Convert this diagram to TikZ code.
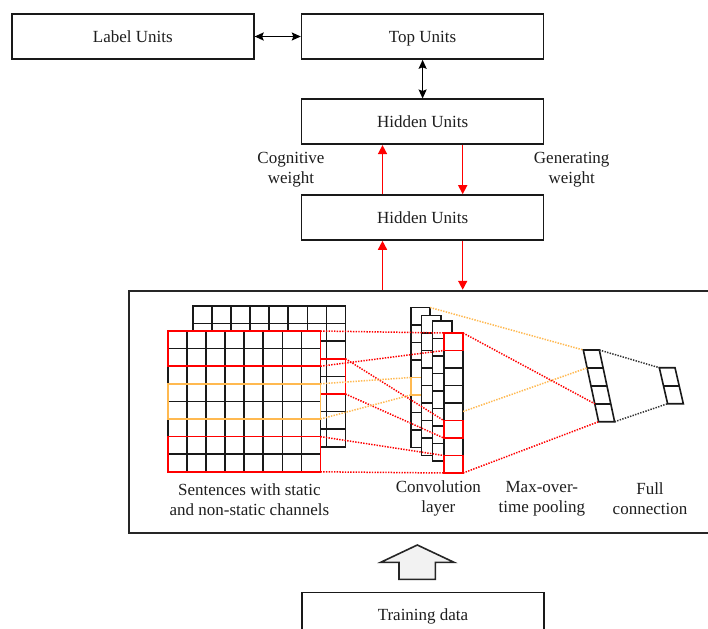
\documentclass[tikz,border=0pt]{standalone}
\usepackage{fontspec}
\setmainfont{Liberation Serif}
\usetikzlibrary{arrows.meta}
\definecolor{rd}{RGB}{255,0,0}
\definecolor{org}{RGB}{255,185,80}
\definecolor{txt}{RGB}{30,30,30}
\newcommand\mkconvcol[2]{%
  \filldraw[cell] (#1,#2) rectangle ++(19.4,140);
  \foreach \k in {1,...,7} \draw[gridl] ({#1},{#2+\k*17.5}) -- ++(19.4,0);
}
\newcommand\mkgrid[2]{%
  \filldraw[cell] (#1,#2) rectangle ++(152.8,140.8);
  \foreach \k in {1,...,7} {
    \draw[gridl] ({#1+\k*19.1},{#2}) -- ++(0,140.8);
    \draw[gridl] ({#1},{#2+\k*17.6}) -- ++(152.8,0);
  }
}
\begin{document}
\begin{tikzpicture}[x=1pt,y=-1pt,
  font=\fontsize{17}{20}\selectfont,
  box/.style={draw=black!90, line width=1.6pt, minimum width=242pt, minimum height=45pt, inner sep=0pt, text=txt, text height=11.5pt, text depth=0pt},
  lbl/.style={align=center, text=txt, inner sep=0pt},
  dblarr/.style={{Stealth[length=9pt,width=8pt,inset=1.5pt]}-{Stealth[length=9pt,width=8pt,inset=1.5pt]}, line width=1.5pt},
  redarr/.style={-{Triangle[length=9pt,width=9pt]}, draw=rd, line width=1.5pt},
  gridl/.style={line width=1.6pt, draw=black!90},
  cell/.style={line width=1.6pt, draw=black!90, fill=white},
  win/.style={line width=1.6pt},
  dotl/.style={line width=1.5pt, dash pattern=on 1.4pt off 1.3pt},
]
\clip (0,0) rectangle (708,628);
\fill[white] (0,0) rectangle (708,628);

% top boxes
\node[box] (label) at (132.85,36.5) {Label Units};
\node[box] (top) at (422.6,36.5) {Top Units};
\node[box] (h1) at (422.6,121.8) {Hidden Units};
\node[box] (h2) at (422.6,217.5) {Hidden Units};
\node[draw=black!85, line width=1.8pt, minimum width=583pt, minimum height=242.6pt, inner sep=0pt] (big) at (420.5,412) {};
\node[box] (train) at (423,615) {Training data};

\coordinate (xl) at (382.5,0);
\coordinate (xr) at (462.7,0);

\draw[dblarr] (label.east) -- (top.west);
\draw[dblarr] (top.south) -- (h1.north);
\draw[redarr] (h2.north -| xl) -- (h1.south -| xl);
\draw[redarr] (h1.south -| xr) -- (h2.north -| xr);
\draw[redarr] (big.north -| xl) -- (h2.south -| xl);
\draw[redarr] (h2.south -| xr) -- (big.north -| xr);

\node[lbl] (cog) at (291,170) {Cognitive\\weight};
\node[lbl] (gen) at (571.7,170) {Generating\\weight};

% hollow arrow
\draw[line width=1.6pt, draw=black!85, fill=gray!10] (399,579.3) -- (399,562.3) -- (380.7,562.3) -- (417.3,545) -- (454,562.3) -- (435.3,562.3) -- (435.3,579.3) -- cycle;

% sentence matrices
\mkgrid{192.7}{306}
\draw[win, draw=rd] (192.7,358.8) rectangle (345.5,394);
\mkgrid{167.7}{331}
\draw[win, draw=rd] (167.7,331) rectangle (320.5,366.2);
\draw[win, draw=org] (167.7,383.8) rectangle (320.5,419);
\draw[win, draw=rd] (167.7,436.6) rectangle (320.5,471.8);

% convolution columns
\mkconvcol{410.7}{307.5}
\draw[win, draw=org] (410.7,377.5) rectangle ++(19.4,17.5);
\mkconvcol{421.5}{315.5}
\mkconvcol{432.5}{321}
\mkconvcol{443.7}{333}
\draw[win, draw=rd] (443.7,333) rectangle ++(19.4,17.5);
\draw[win, draw=rd] (443.7,420.5) rectangle ++(19.4,17.5);
\draw[win, draw=rd] (443.7,455.5) rectangle ++(19.4,17.5);

% pooling
\draw[cell] (583.3,350) -- (599.3,350) -- (614.6,421.7) -- (598.6,421.7) -- cycle;
\foreach \k in {1,2,3} \draw[gridl] ({583.3+\k*3.825},{350+\k*17.925}) -- ++(16,0);
% full connection
\draw[cell] (659.3,367.7) -- (675,367.7) -- (683.3,403.7) -- (667.6,403.7) -- cycle;
\draw[gridl] (663.45,385.7) -- (679.15,385.7);

% connector end points
\coordinate (fTR) at (320.5,331);
\coordinate (fR2) at (320.5,366.2);
\coordinate (fR3) at (320.5,383.8);
\coordinate (fR5) at (320.5,419);
\coordinate (fR6) at (320.5,436.6);
\coordinate (fBR) at (320.5,471.8);
\coordinate (bwT) at (345.5,358.8);
\coordinate (bwB) at (345.5,394);
\coordinate (c4TL) at (443.7,333);
\coordinate (c4c1) at (443.7,350.5);
\coordinate (c4c5) at (443.7,420.5);
\coordinate (c4c6) at (443.7,438);
\coordinate (c4c7) at (443.7,455.5);
\coordinate (c4BL) at (443.7,473);
\coordinate (c4TR) at (463.1,333);
\coordinate (c4BR) at (463.1,473);
\coordinate (c4mid) at (463.1,411.5);
\coordinate (c1TR) at (430.1,307.5);
\coordinate (c1o1) at (410.7,377.5);
\coordinate (c1o2) at (410.7,395);
\coordinate (pTL) at (583.3,350);
\coordinate (pTR) at (599.3,350);
\coordinate (pBR) at (614.6,421.7);
\coordinate (pBL) at (598.6,421.7);
\coordinate (p1) at (587.1,367.9);
\coordinate (p3) at (594.8,403.8);
\coordinate (fcTL) at (659.3,367.7);
\coordinate (fcBL) at (667.6,403.7);

\draw[dotl, draw=rd] (fTR) -- (c4TL);
\draw[dotl, draw=rd] (fR2) -- (c4c1);
\draw[dotl, draw=rd] (bwT) -- (c4c5);
\draw[dotl, draw=rd] (bwB) -- (c4c6);
\draw[dotl, draw=rd] (fR6) -- (c4c7);
\draw[dotl, draw=rd] (fBR) -- (c4BL);
\draw[dotl, draw=org] (fR3) -- (c1o1);
\draw[dotl, draw=org] (fR5) -- (c1o2);
\draw[dotl, draw=org] (c1TR) -- (pTL);
\draw[dotl, draw=org] (c4mid) -- (p1);
\draw[dotl, draw=rd] (c4TR) -- (p3);
\draw[dotl, draw=rd] (c4BR) -- (pBL);
\draw[dotl, draw=black!80] (pTR) -- (fcTL);
\draw[dotl, draw=black!80] (pBR) -- (fcBL);

% captions
\node[lbl] (capS) at (249.4,500) {Sentences with static\\and non-static channels};
\node[lbl] (capC) at (438.3,498.3) {Convolution\\layer};
\node[lbl] (capM) at (541.8,498.3) {Max-over-\\time pooling};
\node[lbl] (capF) at (650,498.3) {Full\\connection};
\end{tikzpicture}
\end{document}
